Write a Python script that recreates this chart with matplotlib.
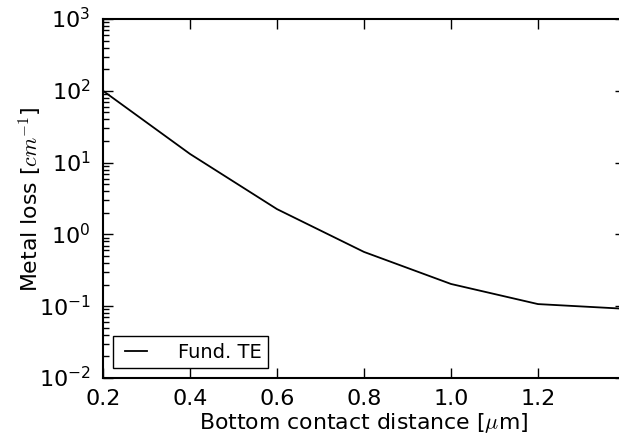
import matplotlib
matplotlib.use('Agg')
import matplotlib.pyplot as plt

# Data
distance = [0.2, 0.4, 0.6, 0.8, 1.0, 1.2, 1.4]
metal_loss = [100.0, 13.2, 2.25, 0.57, 0.204, 0.107, 0.092]

plt.style.use('classic')
plt.rcParams['font.family'] = 'DejaVu Sans'
plt.rcParams['mathtext.fontset'] = 'cm'
plt.rcParams['font.size'] = 16

fig = plt.figure(figsize=(6.19, 4.39), dpi=100, facecolor='white')
ax = fig.add_axes([103 / 619, 60 / 439, 522 / 619, 359 / 439])

ax.plot(distance, metal_loss, color='black', linewidth=1.3, label='Fund. TE')
ax.set_yscale('log')
ax.set_xlim(0.2, 1.4)
ax.set_ylim(1e-2, 1e3)
ax.set_xticks([0.2, 0.4, 0.6, 0.8, 1.0, 1.2])

ax.tick_params(which='major', length=7, width=1, direction='in', labelsize=16)
ax.tick_params(axis='x', which='major', pad=7)
ax.tick_params(axis='y', which='major', pad=9)
ax.tick_params(which='minor', length=4, width=1, direction='in')
for s in ax.spines.values():
    s.set_linewidth(1.5)

ax.set_xlabel(r'Bottom contact distance [$\mu$m]', fontsize=15.8, labelpad=2)
ax.set_ylabel(r'Metal loss [$cm^{-1}$]', fontsize=15.8, labelpad=-3)

leg = ax.legend(loc='lower left', fontsize=14, handlelength=1.7, handletextpad=1.3,
                borderaxespad=0.5, fancybox=False, frameon=True, borderpad=0.35)
leg.get_frame().set_edgecolor('black')

fig.savefig('out.png', dpi=100, facecolor='white')
